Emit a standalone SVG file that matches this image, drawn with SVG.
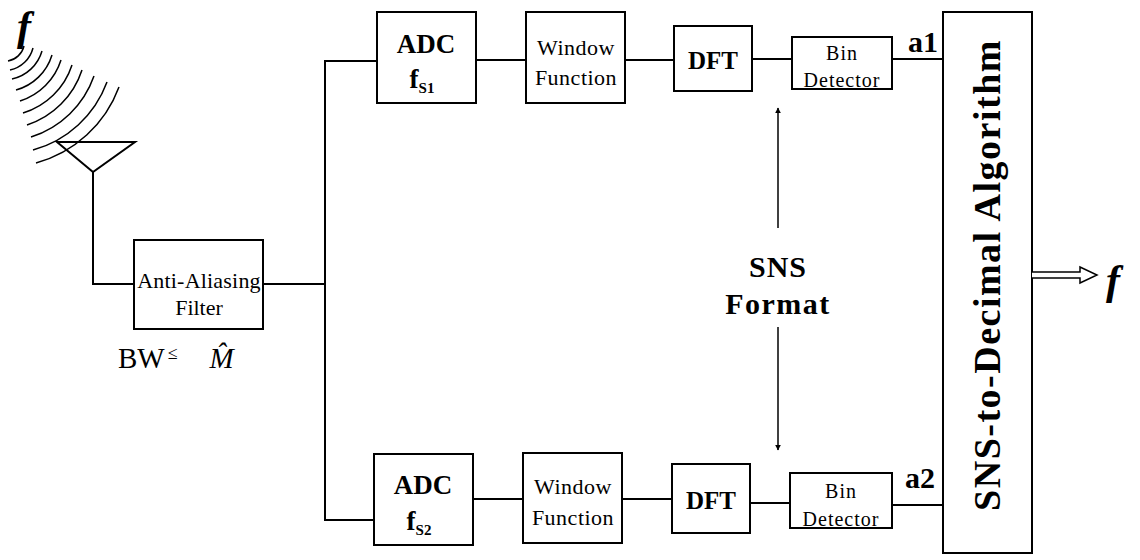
<svg xmlns="http://www.w3.org/2000/svg" width="1140" height="560" viewBox="0 0 1140 560">
<defs>
<style>
.box{fill:#fff;stroke:#000;stroke-width:2}
.ln{fill:none;stroke:#000;stroke-width:2}
.thin{fill:none;stroke:#000;stroke-width:1.5}
.t{font-family:"Liberation Serif","Times New Roman",serif;fill:#000;text-anchor:middle}
.s{text-anchor:start}
.b{font-weight:bold}
.win{font-size:22px;letter-spacing:0.5px}
.bin{font-size:20px;letter-spacing:1px}
.adc{font-size:27px;font-weight:bold}
.dft{font-size:25px;font-weight:bold}
.lab{font-size:30px;font-weight:bold}
</style>
<marker id="ah" viewBox="0 0 10 10" refX="9" refY="5" markerWidth="6" markerHeight="7" orient="auto-start-reverse" markerUnits="userSpaceOnUse">
<path d="M0,0 L10,5 L0,10 z" fill="#000"/>
</marker>
</defs>
<rect width="1140" height="560" fill="#fff"/>

<g id="antenna">
<text x="24" y="40" class="t b" font-size="42" font-style="italic">f</text>
<g class="thin">
<path d="M24,46 A20,20 0 0 1 8,61"/>
<path d="M33,48 A30,30 0 0 1 10,70"/>
<path d="M42,51 A40,40 0 0 1 12,79"/>
<path d="M52,55 A52,52 0 0 1 16,90"/>
<path d="M61,60 A63,63 0 0 1 20,101"/>
<path d="M72,65 A74,74 0 0 1 23,113"/>
<path d="M82,70 A86,86 0 0 1 27,125"/>
<path d="M94,76 A98,98 0 0 1 31,137"/>
<path d="M107,82 A110,110 0 0 1 33,150"/>
<path d="M119,87 A123,123 0 0 1 36,163"/>
</g>
<path class="ln" d="M57,142 L135,142 L93,172 Z"/>
</g>

<g id="aaf">
<rect class="box" x="134" y="240" width="129" height="89"/>
<text class="t" x="199" y="288" font-size="22" letter-spacing="0.2">Anti-Aliasing</text>
<text class="t" x="199" y="315" font-size="22">Filter</text>
</g>
<text id="bw" class="t s" x="118" y="368" font-size="29">BW<tspan font-size="18" dx="3" dy="-9">≤</tspan><tspan font-style="italic" dx="32" dy="9">M̂</tspan></text>

<g id="adc1">
<rect class="box" x="377" y="12" width="99" height="91"/>
<text class="t adc" x="426" y="53">ADC</text>
<text class="t adc" x="422" y="88">f<tspan font-size="15" dy="5">S1</tspan></text>
</g>
<g id="win1">
<rect class="box" x="526" y="12" width="99" height="91"/>
<text class="t win" x="576" y="55">Window</text>
<text class="t win" x="576" y="85">Function</text>
</g>
<g id="dft1">
<rect class="box" x="674" y="26" width="78" height="65"/>
<text class="t dft" x="713" y="69">DFT</text>
</g>
<g id="bin1">
<rect class="box" x="792" y="37" width="100" height="52"/>
<text class="t bin" x="842" y="60">Bin</text>
<text class="t bin" x="842" y="87">Detector</text>
</g>
<text id="a1" class="t lab" x="923" y="52">a1</text>

<g id="adc2">
<rect class="box" x="374" y="454" width="99" height="91"/>
<text class="t adc" x="423" y="494">ADC</text>
<text class="t adc" x="419" y="530">f<tspan font-size="15" dy="5">S2</tspan></text>
</g>
<g id="win2">
<rect class="box" x="523" y="453" width="99" height="90"/>
<text class="t win" x="573" y="494">Window</text>
<text class="t win" x="573" y="525">Function</text>
</g>
<g id="dft2">
<rect class="box" x="672" y="464" width="78" height="69"/>
<text class="t dft" x="711" y="509">DFT</text>
</g>
<g id="bin2">
<rect class="box" x="790" y="473" width="102" height="55"/>
<text class="t bin" x="841" y="498">Bin</text>
<text class="t bin" x="841" y="526">Detector</text>
</g>
<text id="a2" class="t lab" x="920" y="488">a2</text>

<g id="sns">
<text class="t b" x="778" y="277" font-size="30" letter-spacing="1">SNS</text>
<text class="t b" x="778" y="314" font-size="30" letter-spacing="1.5">Format</text>
</g>

<g id="algo">
<rect class="box" x="943" y="12" width="89" height="541"/>
<text class="t b" transform="translate(1000,275) rotate(-90)" font-size="38" letter-spacing="1.5">SNS-to-Decimal Algorithm</text>
</g>
<g id="out">
<path d="M1032,272 L1080,272 L1080,267 L1097,275 L1080,283 L1080,278 L1032,278" fill="#fff" stroke="#000" stroke-width="1.5"/>
<text class="t b" x="1113" y="294" font-size="42" font-style="italic">f</text>
</g>

<g id="connectors" class="ln">
<path d="M93,172 L93,284 L134,284"/>
<path d="M263,284 L325,284"/>
<path d="M377,61 L325,61 L325,520 L374,520"/>
<path d="M476,60 L526,60"/>
<path d="M625,60 L674,60"/>
<path d="M752,59 L792,59"/>
<path d="M892,59 L943,59"/>
<path d="M473,499 L523,499"/>
<path d="M622,499 L672,499"/>
<path d="M750,503 L790,503"/>
<path d="M892,505 L943,505"/>
<path d="M778,228 L778,108" stroke-width="1.5" marker-end="url(#ah)"/>
<path d="M778,327 L778,450" stroke-width="1.5" marker-end="url(#ah)"/>
</g>
</svg>
